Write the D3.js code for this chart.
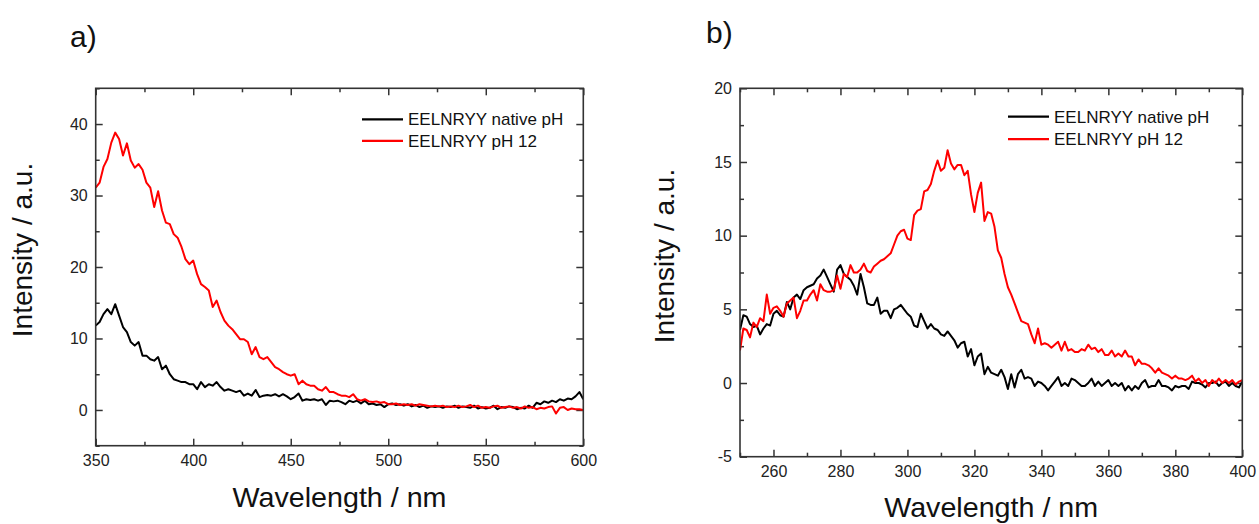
<!DOCTYPE html>
<html>
<head>
<meta charset="utf-8">
<script src="https://cdn.jsdelivr.net/npm/d3@7"></script>
<style>
  html, body { margin: 0; padding: 0; background: #fff; }
  svg { display: block; font-family: "Liberation Sans", Arial, sans-serif; }
  .tick text { fill: #222; }
</style>
</head>
<body>
<svg id="chart" width="1259" height="524"></svg>
<script>
// ---------- Panel a) data (350–600 nm, 2 nm step) ----------
const wavelengthStartA = 350, wavelengthStepA = 2;
const nativeA = [
  11.8,12.3,13.4,14.1,13.4,14.8,13.2,11.6,10.9,9.5,
  9.0,9.5,7.6,7.6,7.1,6.9,7.4,5.7,6.2,5.0,
  4.3,4.1,3.9,3.9,3.6,3.6,2.9,3.9,3.2,3.6,
  3.4,3.9,3.2,2.7,2.9,2.7,2.5,2.7,2.0,2.3,
  2.0,2.8,1.8,2.0,2.1,2.0,2.2,1.9,2.2,1.9,
  1.5,1.8,2.3,1.3,1.5,1.4,1.5,1.3,1.5,0.7,
  1.3,1.2,1.3,1.1,0.8,1.3,1.1,1.3,0.9,1.3,
  0.8,0.9,0.7,0.8,0.4,0.8,
  0.9,0.7,0.8,0.6,0.8,0.5,0.7,0.4,0.6,0.3,
  0.5,0.4,0.5,0.3,0.5,0.4,0.6,0.3,0.5,0.4,
  0.3,0.6,0.2,0.4,0.2,0.3,0.6,0.1,0.4,0.3,
  0.5,0.4,0.1,0.3,0.2,0.6,0.3,1.0,0.8,1.2,
  1.0,1.3,1.1,1.5,1.3,1.6,1.5,1.9,2.5,1.5
];
const ph12A = [
  31.1,31.8,34.0,35.1,37.4,38.8,37.9,35.6,37.3,34.9,
  33.9,34.4,33.6,31.8,31.1,28.4,30.6,27.9,26.2,26.0,
  24.6,24.1,22.8,21.1,20.4,20.9,19.0,17.6,17.2,16.7,
  14.4,15.3,13.7,12.5,11.8,11.3,10.6,9.9,9.9,9.5,
  7.8,8.8,7.4,7.1,7.4,6.7,6.0,5.7,5.3,5.0,
  4.8,5.0,3.6,4.1,3.6,3.4,3.4,2.9,2.7,3.2,
  2.5,2.5,2.2,2.0,2.0,1.8,2.2,1.5,1.3,1.5,
  1.2,1.1,1.2,1.0,1.1,0.8,
  0.8,0.9,0.7,0.8,0.7,0.8,0.6,0.8,0.7,0.6,
  0.5,0.6,0.5,0.6,0.4,0.5,0.4,0.6,0.4,0.5,
  0.7,0.4,0.6,0.3,0.4,0.3,0.5,0.6,0.3,0.4,
  0.5,0.3,0.4,0.2,0.5,0.3,0.4,0.1,0.3,0.2,
  0.4,0.5,-0.5,0.3,0.4,0.0,0.2,0.1,0.1,0.0
];
const xTicksA = [350, 400, 450, 500, 550, 600];
const yTicksA = [0, 10, 20, 30, 40];

// ---------- Panel b) data (250–400 nm, 1 nm step) ----------
const wavelengthStartB = 250, wavelengthStepB = 1;
const nativeB = [
  3.6,4.6,4.5,4.0,3.8,3.9,3.3,3.7,4.0,3.9,
  4.7,4.9,4.6,4.5,5.5,5.0,5.8,6.0,5.7,6.3,
  6.5,6.6,6.7,7.1,7.3,7.7,7.2,6.7,6.2,7.7,
  8.0,7.4,7.2,7.0,6.6,6.0,7.4,6.5,5.4,5.3,
  5.3,5.8,4.7,4.9,4.9,4.4,5.0,5.1,5.3,5.0,
  4.7,4.5,3.9,3.8,4.7,4.2,3.7,4.0,3.7,3.6,
  3.3,3.2,3.5,3.2,2.9,2.4,2.7,2.8,1.8,2.3,
  1.2,1.8,2.0,0.6,1.1,0.7,0.6,0.5,0.9,0.4,
  -0.4,0.6,-0.3,0.6,0.9,0.3,0.4,0.3,-0.2,0.1,
  0.0,-0.2,-0.5,-0.2,0.1,0.4,-0.2,0.0,-0.2,0.3,
  0.2,0.0,-0.2,-0.2,0.0,0.3,-0.2,0.1,-0.2,0.0,
  0.2,-0.2,0.0,-0.2,0.0,-0.5,-0.2,-0.5,-0.2,-0.4,
  0.0,0.2,-0.3,-0.2,-0.2,0.2,-0.2,-0.2,-0.3,-0.5,
  -0.2,-0.3,-0.2,-0.2,-0.4,0.1,0.0,0.0,-0.1,-0.3,
  0.0,0.0,0.1,-0.2,0.0,0.1,-0.2,0.0,-0.2,-0.3,
  0.1
];
const ph12B = [
  2.2,3.7,3.6,3.1,4.1,3.8,4.4,4.2,6.0,4.7,
  5.1,5.2,4.9,4.5,5.4,5.6,5.8,4.4,4.9,5.6,
  5.6,6.0,6.3,5.6,6.7,6.3,6.2,6.2,6.3,7.3,
  6.4,7.4,7.2,8.0,7.5,7.5,7.7,8.1,7.6,7.5,
  7.9,8.1,8.3,8.4,8.6,8.8,9.4,10.0,10.3,10.4,
  9.8,9.7,11.4,11.7,11.8,13.0,13.1,13.5,14.4,15.1,
  14.4,14.6,15.8,14.9,14.5,14.8,14.8,14.1,14.4,12.8,
  11.6,12.9,13.6,11.0,11.6,11.5,10.6,9.0,8.5,7.4,
  6.5,6.0,5.4,4.8,4.2,4.1,4.0,3.3,2.7,3.7,
  2.6,2.7,2.6,2.4,2.6,2.8,2.2,2.8,2.2,2.3,
  2.1,2.1,2.3,2.2,2.6,2.3,2.4,2.1,2.3,1.9,
  1.9,2.2,1.8,2.0,1.8,2.2,1.8,1.8,1.2,1.6,
  1.3,1.3,1.2,1.0,0.7,1.0,0.7,0.6,0.5,0.3,
  0.5,0.3,0.3,0.2,0.3,0.5,0.1,0.3,0.0,0.2,
  -0.2,0.2,0.0,0.3,0.0,0.2,0.0,0.2,-0.1,0.1,
  0.2
];
const xTicksB = [260, 280, 300, 320, 340, 360, 380, 400];
const yTicksB = [-5, 0, 5, 10, 15, 20];

const seriesNames = ["EELNRYY native pH", "EELNRYY pH 12"];
const seriesColors = ["#000000", "#ff0000"];

// ---------- drawing ----------
const svg = d3.select("#chart");
const plainFormat = d => String(d);

function drawPanel(p) {
  const g = svg.append("g");
  const x = d3.scaleLinear().domain(p.xDomain).range([p.left, p.right]);
  const y = d3.scaleLinear().domain(p.yDomain).range([p.bottom, p.top]);
  const W = p.right - p.left, H = p.bottom - p.top;

  const minorX = d3.range(p.xDomain[0], p.xDomain[1] + 1e-9, p.xMinor).filter(v => !p.xTicks.includes(v));
  const minorY = d3.range(p.yDomain[0], p.yDomain[1] + 1e-9, p.yMinor).filter(v => !p.yTicks.includes(v));

  const style = sel => {
    sel.select(".domain").remove();
    sel.selectAll(".tick line").attr("stroke", "#333").attr("stroke-width", 1.5);
    sel.selectAll(".tick text").attr("font-size", 16).attr("fill", "#222")
      .attr("font-family", "'Liberation Sans', Arial, sans-serif");
  };

  // bottom
  g.append("g").attr("transform", `translate(0,${p.bottom})`)
    .call(d3.axisBottom(x).tickValues(p.xTicks).tickSizeInner(-7).tickSizeOuter(0).tickPadding(9).tickFormat(plainFormat))
    .call(style);
  g.append("g").attr("transform", `translate(0,${p.bottom})`)
    .call(d3.axisBottom(x).tickValues(minorX).tickSizeInner(-4).tickSizeOuter(0).tickFormat(""))
    .call(style);
  // top
  g.append("g").attr("transform", `translate(0,${p.top})`)
    .call(d3.axisTop(x).tickValues(p.xTicks).tickSizeInner(-7).tickSizeOuter(0).tickFormat(""))
    .call(style);
  g.append("g").attr("transform", `translate(0,${p.top})`)
    .call(d3.axisTop(x).tickValues(minorX).tickSizeInner(-4).tickSizeOuter(0).tickFormat(""))
    .call(style);
  // left
  g.append("g").attr("transform", `translate(${p.left},0)`)
    .call(d3.axisLeft(y).tickValues(p.yTicks).tickSizeInner(-7).tickSizeOuter(0).tickPadding(8).tickFormat(plainFormat))
    .call(style);
  g.append("g").attr("transform", `translate(${p.left},0)`)
    .call(d3.axisLeft(y).tickValues(minorY).tickSizeInner(-4).tickSizeOuter(0).tickFormat(""))
    .call(style);
  // right
  g.append("g").attr("transform", `translate(${p.right},0)`)
    .call(d3.axisRight(y).tickValues(p.yTicks).tickSizeInner(-7).tickSizeOuter(0).tickFormat(""))
    .call(style);
  g.append("g").attr("transform", `translate(${p.right},0)`)
    .call(d3.axisRight(y).tickValues(minorY).tickSizeInner(-4).tickSizeOuter(0).tickFormat(""))
    .call(style);

  // data lines (clipped to frame)
  const clipId = "clip" + p.id;
  svg.append("clipPath").attr("id", clipId).append("rect")
    .attr("x", p.left).attr("y", p.top).attr("width", W).attr("height", H);
  const line = d3.line().x(d => x(d[0])).y(d => y(d[1]));
  p.series.forEach((vals, i) => {
    const pts = vals.map((v, k) => [p.start + k * p.step, v]);
    g.append("path").datum(pts)
      .attr("clip-path", `url(#${clipId})`)
      .attr("fill", "none").attr("stroke", seriesColors[i])
      .attr("stroke-width", 2).attr("stroke-linejoin", "round")
      .attr("d", line);
  });

  // frame
  g.append("rect").attr("x", p.left).attr("y", p.top).attr("width", W).attr("height", H)
    .attr("fill", "none").attr("stroke", "#333").attr("stroke-width", 1.6);

  // legend
  seriesNames.forEach((name, i) => {
    const ly = p.legendY + i * p.legendGap;
    g.append("line").attr("x1", p.legendX).attr("x2", p.legendX + 41)
      .attr("y1", ly).attr("y2", ly).attr("stroke", seriesColors[i]).attr("stroke-width", 2.2);
    g.append("text").attr("x", p.legendX + 46).attr("y", ly).attr("dy", "0.35em")
      .attr("font-size", 17).attr("fill", "#111").text(name);
  });

  // axis titles
  g.append("text").attr("x", (p.left + p.right) / 2).attr("y", p.xTitleY)
    .attr("text-anchor", "middle").attr("font-size", 28).attr("fill", "#111")
    .attr("textLength", 214).attr("lengthAdjust", "spacingAndGlyphs")
    .text("Wavelength / nm");
  g.append("text").attr("transform", `translate(${p.yTitleX},${p.yTitleCY}) rotate(-90)`)
    .attr("text-anchor", "middle").attr("font-size", 28).attr("fill", "#111")
    .text("Intensity / a.u.");

  // panel label
  g.append("text").attr("x", p.labelX).attr("y", p.labelY)
    .attr("font-size", 30).attr("fill", "#111").text(p.label);
}

drawPanel({
  id: "A", label: "a)", labelX: 70, labelY: 47,
  left: 95.7, right: 583.3, top: 88.3, bottom: 445.7,
  xDomain: [350, 600], yDomain: [-5, 45], xTicks: xTicksA, yTicks: yTicksA,
  xMinor: 25, yMinor: 5,
  start: wavelengthStartA, step: wavelengthStepA, series: [nativeA, ph12A],
  legendX: 362, legendY: 119.3, legendGap: 21.6,
  xTitleY: 507, yTitleX: 32, yTitleCY: 250
});

drawPanel({
  id: "B", label: "b)", labelX: 706, labelY: 43,
  left: 740, right: 1242.3, top: 88.3, bottom: 456.7,
  xDomain: [250, 400], yDomain: [-5, 20], xTicks: xTicksB, yTicks: yTicksB,
  xMinor: 10, yMinor: 2.5,
  start: wavelengthStartB, step: wavelengthStepB, series: [nativeB, ph12B],
  legendX: 1008, legendY: 116.6, legendGap: 22.6,
  xTitleY: 517, yTitleX: 674, yTitleCY: 256
});
</script>
</body>
</html>
